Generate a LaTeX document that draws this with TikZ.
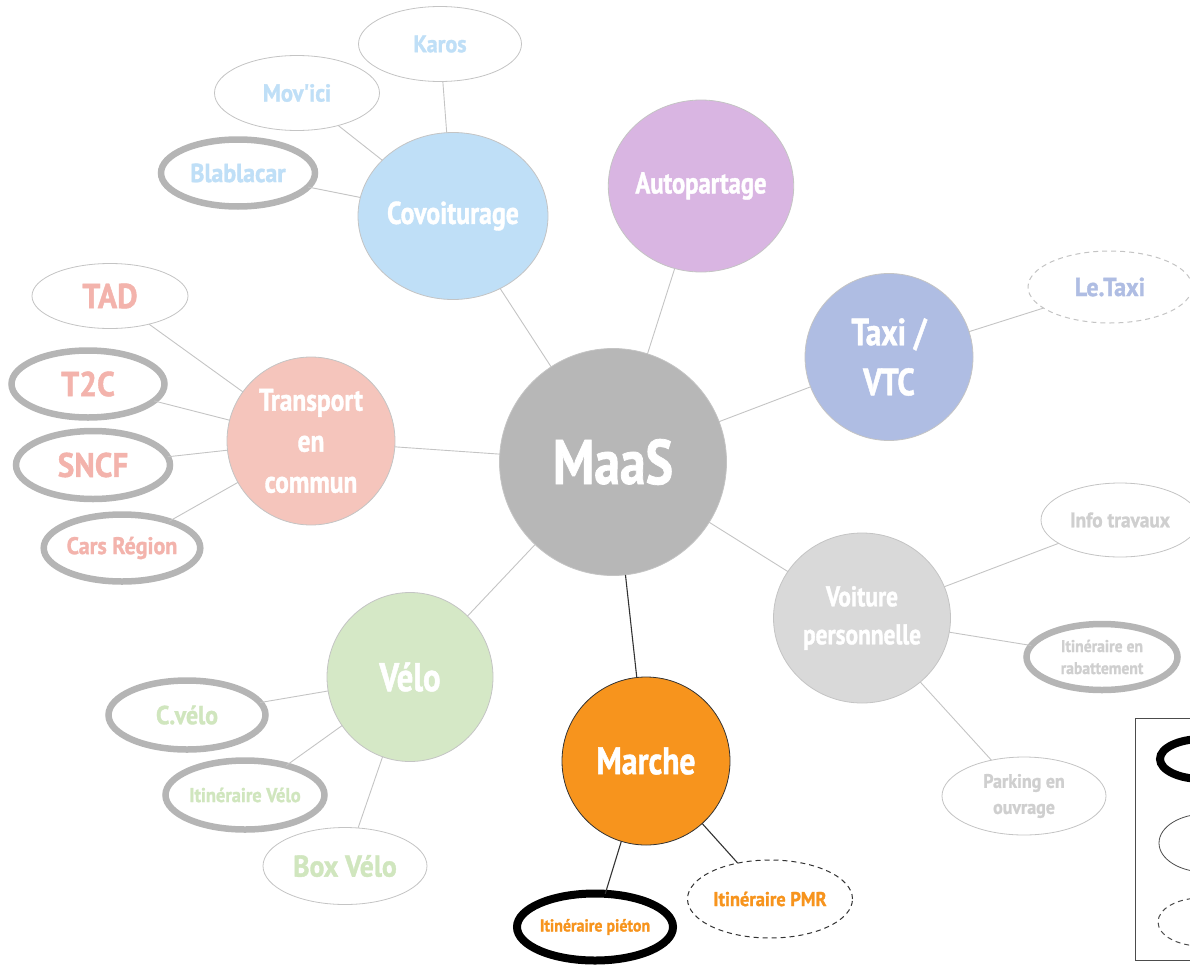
\documentclass[tikz,border=0pt]{standalone}
\usepackage{fontspec}
\setmainfont{PT Sans}[FakeStretch=0.82,BoldFeatures={FakeBold=1.2}]
\newfontfamily\leaffont{PT Sans}[FakeStretch=0.92,BoldFeatures={FakeBold=1.2}]
\usetikzlibrary{shapes.geometric}
\definecolor{maasgray}{HTML}{B7B7B7}
\definecolor{covoblue}{HTML}{BFDFF7}
\definecolor{autoviolet}{HTML}{D9B5E2}
\definecolor{taxiblue}{HTML}{AFBDE3}
\definecolor{tcpink}{HTML}{F5C5BC}
\definecolor{tctext}{HTML}{F3B3AC}
\definecolor{velogreen}{HTML}{D5E8C6}
\definecolor{velotext}{HTML}{D0E6BE}
\definecolor{voitgray}{HTML}{D9D9D9}
\definecolor{voittext}{HTML}{CFCFCF}
\definecolor{marcheorange}{HTML}{F7941D}
\definecolor{ringgray}{HTML}{B5B5B5}
\definecolor{linkgray}{HTML}{C4C4C4}
\newcommand{\fsz}[2]{\fontsize{#1}{#2}\selectfont\bfseries}
\newcommand{\lfsz}[2]{\leaffont\fontsize{#1}{#2}\selectfont\bfseries}
\begin{document}
\begin{tikzpicture}[x=1pt,y=-1pt,
  hub/.style={ellipse,draw=linkgray,line width=0.8pt,inner sep=0pt,outer sep=0pt,text=white,align=center},
  leaf/.style={ellipse,draw=linkgray,line width=0.8pt,fill=white,inner sep=0pt,outer sep=0pt,align=center},
  leafring/.style={leaf,draw=ringgray,line width=6.5pt},
  leafblack/.style={leaf,draw=black,line width=8pt},
  leafdash/.style={leaf,dashed,dash pattern=on 5pt off 4pt,draw=#1,line width=1pt},
  link/.style={draw=linkgray,line width=0.9pt},
  darklink/.style={draw=black!80,line width=1.1pt}]
  \useasboundingbox (0,0) rectangle (1190,966);
  \clip (0,0) rectangle (1190,966);

  \node[hub,fill=maasgray,minimum width=227pt,minimum height=227pt,font=\fsz{63}{70}]
  (maas) at (613, 462) {MaaS};
  \node[hub,fill=covoblue,minimum width=190pt,minimum height=167pt,font=\fsz{31.5}{36}]
  (covo) at (453, 216) {Covoiturage};
  \node[hub,fill=autoviolet,minimum width=184pt,minimum height=172pt,font=\fsz{30}{34}]
  (autop) at (701, 186) {Autopartage};
  \node[hub,fill=taxiblue,minimum width=168pt,minimum height=167pt,font=\fsz{38}{50}]
  (taxi) at (889, 357) {Taxi /\\VTC};
  \node[hub,fill=tcpink,minimum width=168pt,minimum height=168pt,font=\fsz{31}{41}]
  (tc) at (311, 441) {Transport\\en\\commun};
  \node[hub,fill=velogreen,minimum width=166pt,minimum height=169pt,font=\fsz{40}{44}]
  (velo) at (410, 677) {Vélo};
  \node[hub,fill=voitgray,minimum width=177pt,minimum height=170pt,font=\fsz{28.5}{38}]
  (voit) at (862, 618) {Voiture\\personnelle};
  \node[hub,fill=marcheorange,draw=black!80,minimum width=168pt,minimum height=168pt,font=\fsz{38.5}{42}]
  (marche) at (646, 761) {Marche};

  \node[leaf,minimum width=163pt,minimum height=75pt,text=covoblue,font=\lfsz{24}{28}]
  (karos) at (440, 44) {Karos};
  \node[leaf,minimum width=165pt,minimum height=75pt,text=covoblue,font=\lfsz{24.5}{28}]
  (movici) at (297, 93) {Mov'ici};
  \node[leafring,minimum width=154pt,minimum height=67pt,text=covoblue,font=\lfsz{26}{30}]
  (blabla) at (238, 173) {Blablacar};
  \node[leaf,minimum width=156pt,minimum height=65pt,text=tctext,font=\lfsz{34.5}{38}]
  (tad) at (110, 296) {TAD};
  \node[leafring,minimum width=153pt,minimum height=67pt,text=tctext,font=\lfsz{34.5}{38}]
  (ttc) at (88, 384) {T2C};
  \node[leafring,minimum width=154pt,minimum height=68pt,text=tctext,font=\lfsz{34}{38}]
  (sncf) at (93, 465) {SNCF};
  \node[leafring,minimum width=154pt,minimum height=67pt,text=tctext,font=\lfsz{24}{28}]
  (cars) at (122, 548) {Cars Région};
  \node[leafdash=linkgray,minimum width=164pt,minimum height=72pt,text=taxiblue,font=\lfsz{26}{30}]
  (letaxi) at (1110, 287) {Le.Taxi};
  \node[leaf,minimum width=158pt,minimum height=74pt,text=voittext,font=\lfsz{21}{25}]
  (infotrav) at (1120, 520) {Info travaux};
  \node[leafring,minimum width=151pt,minimum height=66pt,text=voittext,font=\lfsz{17}{22}]
  (rabat) at (1102, 657) {Itinéraire en\\rabattement};
  \node[leaf,minimum width=164pt,minimum height=78pt,text=voittext,font=\lfsz{19.5}{26}]
  (parking) at (1024, 796) {Parking en\\ouvrage};
  \node[leafring,minimum width=157pt,minimum height=69pt,text=velotext,font=\lfsz{26}{30}]
  (cvelo) at (187, 715) {C.vélo};
  \node[leafring,minimum width=159pt,minimum height=69pt,text=velotext,font=\lfsz{20}{24}]
  (itivelo) at (245, 795) {Itinéraire Vélo};
  \node[leaf,minimum width=164pt,minimum height=77pt,text=velotext,font=\lfsz{30}{34}]
  (boxvelo) at (345, 866) {Box Vélo};
  \node[leafblack,minimum width=156pt,minimum height=67pt,text=marcheorange,font=\lfsz{17.3}{20}]
  (pieton) at (595, 927) {Itinéraire piéton};
  \node[leafdash=black!80,minimum width=165pt,minimum height=78pt,text=marcheorange,font=\lfsz{20}{24}]
  (pmr) at (770, 899) {Itinéraire PMR};

  \draw[link] (maas) -- (covo);
  \draw[link] (maas) -- (autop);
  \draw[link] (maas) -- (taxi);
  \draw[link] (maas) -- (tc);
  \draw[link] (maas) -- (velo);
  \draw[link] (maas) -- (voit);
  \draw[darklink] (maas) -- (marche);
  \draw[link] (covo) -- (karos);
  \draw[link] (covo) -- (movici);
  \draw[link] (covo) -- (blabla);
  \draw[link] (tc) -- (tad);
  \draw[link] (tc) -- (ttc);
  \draw[link] (tc) -- (sncf);
  \draw[link] (tc) -- (cars);
  \draw[link] (taxi) -- (letaxi);
  \draw[link] (voit) -- (infotrav);
  \draw[link] (voit) -- (rabat);
  \draw[link] (voit) -- (parking);
  \draw[link] (velo) -- (cvelo);
  \draw[link] (velo) -- (itivelo);
  \draw[link] (velo) -- (boxvelo);
  \draw[darklink] (marche) -- (pieton);
  \draw[darklink] (marche) -- (pmr);

  \node[draw=black!70,line width=0.8pt,minimum width=90pt,minimum height=242pt,inner sep=0pt,anchor=north west]
  (legend) at (1135, 718) {};
  \node[leafblack,minimum width=84pt,minimum height=40pt] (legblack) at (1202, 759) {};
  \node[leaf,draw=black!70,minimum width=92pt,minimum height=58pt] (legthin) at (1205, 843) {};
  \node[leafdash=black!70,minimum width=86pt,minimum height=48pt] (legdash) at (1201, 922) {};
\end{tikzpicture}
\end{document}
